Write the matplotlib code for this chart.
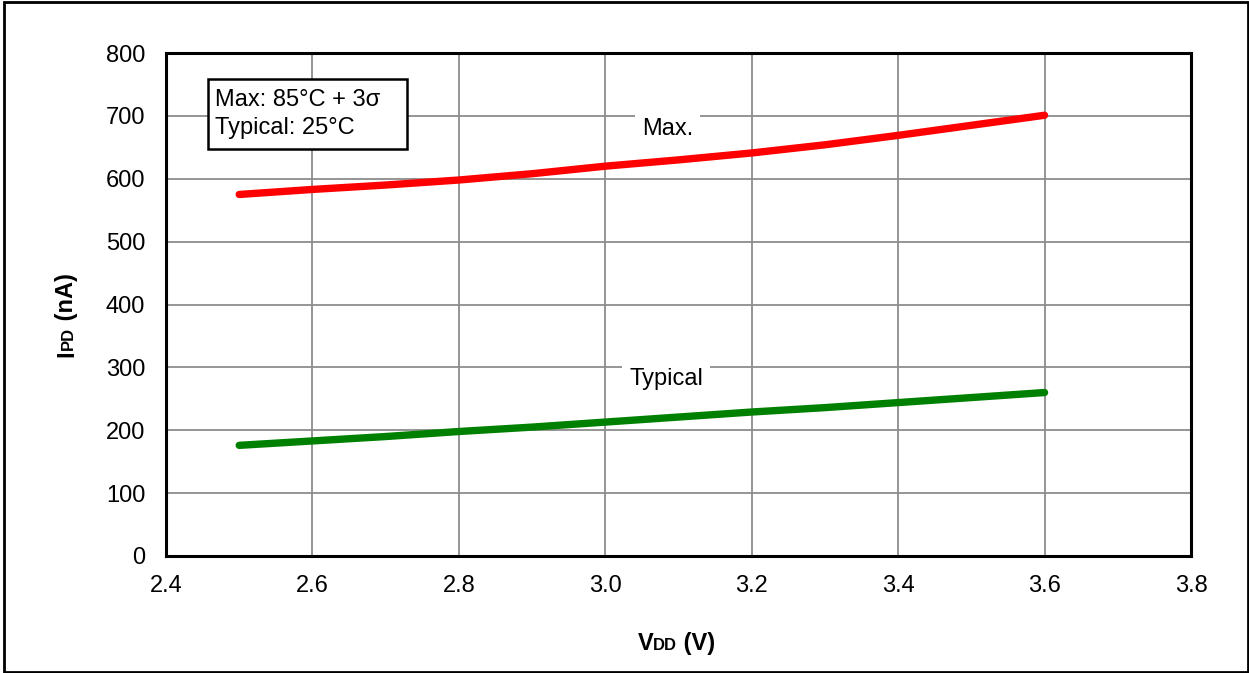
import matplotlib
matplotlib.use("Agg")
import matplotlib.pyplot as plt
from matplotlib.patches import Rectangle

plt.rcParams['font.family'] = ['Liberation Sans', 'DejaVu Sans']

vdd = [2.5, 2.6, 2.7, 2.8, 2.9, 3.0, 3.1, 3.2, 3.3, 3.4, 3.5, 3.6]
ipd_max = [575, 583, 590, 598, 608, 620, 630, 641, 654, 669, 685, 701]
ipd_typ = [176, 183, 190, 198, 205, 213, 221, 229, 236, 244, 252, 260]

x_ticks = [2.4, 2.6, 2.8, 3.0, 3.2, 3.4, 3.6, 3.8]
y_ticks = [0, 100, 200, 300, 400, 500, 600, 700, 800]

FS = 17
W, H = 1249, 673
fig = plt.figure(figsize=(W / 100, H / 100), dpi=100)
ax = fig.add_axes([166 / W, 1 - 556 / H, (1191 - 166) / W, (556 - 53) / H])

ax.plot(vdd, ipd_max, color='#ff0000', lw=5.3, solid_capstyle='round', zorder=3)
ax.plot(vdd, ipd_typ, color='#008000', lw=5.3, solid_capstyle='round', zorder=3)

ax.set_xlim(2.4, 3.8)
ax.set_ylim(0, 800)
ax.set_xticks(x_ticks)
ax.set_xticklabels([f'{v:.1f}' for v in x_ticks])
ax.set_yticks(y_ticks)
ax.tick_params(axis='both', length=0, labelsize=FS)
ax.tick_params(axis='y', pad=15)
ax.tick_params(axis='x', pad=14)
ax.grid(True, color='#8c8c8c', lw=1.3)
ax.set_axisbelow(True)
for s in ax.spines.values():
    s.set_linewidth(2.2)
    s.set_color('black')

# curve labels
ax.text(3.085, 679, 'Max.', fontsize=FS, ha='center', va='center', zorder=4,
        bbox=dict(facecolor='white', edgecolor='none', pad=5))
ax.text(3.083, 282, 'Typical', fontsize=FS, ha='center', va='center', zorder=4,
        bbox=dict(facecolor='white', edgecolor='none', pad=5))

# condition box
ax.add_patch(Rectangle((0.041, 0.809), 0.194, 0.139, transform=ax.transAxes,
                       facecolor='white', edgecolor='black', lw=1.8, zorder=4))
ax.text(0.0478, 0.879, 'Max: 85°C + 3σ\nTypical: 25°C', fontsize=FS,
        transform=ax.transAxes, ha='left', va='center', linespacing=1.32,
        zorder=5)

def px(x, y):
    return x / W, 1 - y / H

# x label: V + small-caps DD + (V), shared baseline
fig.text(*px(638, 650), 'V', fontsize=FS, fontweight='bold', ha='left', va='baseline')
fig.text(*px(653, 650), 'DD', fontsize=12, fontweight='bold', ha='left', va='baseline')
fig.text(*px(677, 650), ' (V)', fontsize=FS, fontweight='bold', ha='left', va='baseline')

# y label: I + small-caps PD + (nA), rotated, shared baseline
fig.text(*px(73, 357), 'I', fontsize=FS, fontweight='bold', ha='left',
         va='baseline', rotation=90, rotation_mode='anchor')
fig.text(*px(73, 350), 'PD', fontsize=12, fontweight='bold', ha='left',
         va='baseline', rotation=90, rotation_mode='anchor')
fig.text(*px(73, 327), ' (nA)', fontsize=FS, fontweight='bold', ha='left',
         va='baseline', rotation=90, rotation_mode='anchor')

# outer frame
fig.patches.append(Rectangle((4 / W, 1 / H), 1244 / W, 670 / H,
                             transform=fig.transFigure, fill=False,
                             edgecolor='black', lw=2))

fig.savefig('out.png', dpi=100)
plt.close(fig)
